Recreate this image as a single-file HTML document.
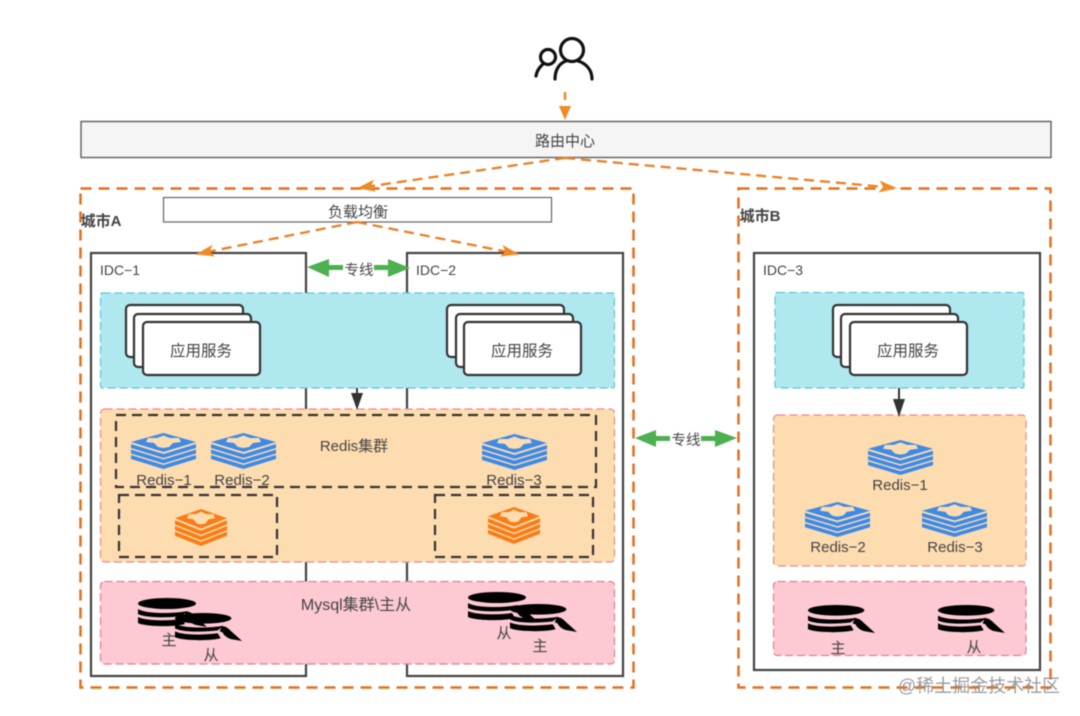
<!DOCTYPE html>
<html><head><meta charset="utf-8"><style>
html,body{margin:0;padding:0;background:#fff}
svg{display:block;filter:blur(.45px)}
text{font-family:"Liberation Sans","Noto Sans CJK SC",sans-serif;fill:#444;font-size:14px;text-anchor:middle}
</style></head><body>
<svg width="1080" height="716" viewBox="0 0 1080 716" xmlns="http://www.w3.org/2000/svg">
<defs>
<symbol id="redis" viewBox="0 0 65 36" preserveAspectRatio="none" overflow="visible">
<path d="M0 22 L32.500 32 L65 22 V26 L32.500 36 L0 26Z"/>
<path d="M0 16.500 L32.500 26.500 L65 16.500 V20.500 L32.500 30.500 L0 20.500Z"/>
<path d="M0 11 L32.500 21 L65 11 V15 L32.500 25 L0 15Z"/>
<path d="M32.500 0 L65 9 L32.500 19 L0 9Z"/>
<path d="M32.500 2.500 L39 5 L48 5 L50 9 L42 10 L38 14 L32.500 15 L27 14 L23 10 L15 9 L17 5 L26 5Z" fill="#fddcb0"/>
</symbol>
<symbol id="db" viewBox="0 0 70 30" preserveAspectRatio="none" overflow="visible">
<ellipse cx="29" cy="5.500" rx="29" ry="5.500" fill="#000"/>
<path d="M0 11 C8 16 34 16 50 13 L44 18 C30 20 8 20 0 16Z" fill="#000"/>
<path d="M0 19 C8 23 30 23 44 21 L47 26 C38 29 8 29 0 25Z" fill="#000"/>
<path d="M48 14 C52 13 55 16 58 19 L69 29 L58 27 C54 26 50 23 49 20 L46 19Z" fill="#000"/>
</symbol>
<marker id="o" markerWidth="20" markerHeight="14" refX="17" refY="6" orient="auto" markerUnits="userSpaceOnUse"><path d="M0 0 L18 6 L0 12 L4 6Z" fill="#f08a24"/></marker>
</defs>

<!-- people icon -->
<g fill="none" stroke="#111" stroke-width="3.200" stroke-linecap="round">
<circle cx="572" cy="50" r="11.500"/>
<path d="M555 79 C555 69 560 63 566 61 M592 79 C592 69 585 63 578 61"/>
<circle cx="548" cy="57" r="7.500"/>
<path d="M536 76 C537 70 540 67 543 64"/>
</g>
<path d="M565 92 V100 M565 106 V113" stroke="#f08a24" stroke-width="2.500"/>
<path d="M559 106 H571 L565 120Z" fill="#f08a24"/>

<!-- routing center -->
<rect x="81" y="121.500" width="970" height="36" fill="#f5f5f5" stroke="#666" stroke-width="1.500"/>
<text x="565" y="146" style="font-size:15px">路由中心</text>

<!-- city boxes -->
<rect x="80.500" y="188.500" width="553" height="499" fill="none" stroke="#e4701e" stroke-width="2.500" stroke-dasharray="11 7"/>
<rect x="738.500" y="188.500" width="312" height="499" fill="none" stroke="#e4701e" stroke-width="2.500" stroke-dasharray="11 7"/>
<text x="101" y="226" style="font-weight:bold;font-size:15px">城市A</text>
<text x="760" y="221" style="font-weight:bold;font-size:15px">城市B</text>

<!-- LB -->
<rect x="163.500" y="197.500" width="388" height="24.500" fill="#fff" stroke="#666" stroke-width="1.200"/>
<text x="358" y="217" style="font-size:15px">负载均衡</text>

<!-- IDC boxes -->
<rect x="91" y="253" width="215" height="423" fill="#fff" stroke="#444" stroke-width="2.200"/>
<rect x="407" y="253" width="216" height="423" fill="#fff" stroke="#444" stroke-width="2.200"/>
<rect x="754" y="253" width="286" height="417" fill="#fff" stroke="#444" stroke-width="2.200"/>
<text x="120" y="275" style="font-size:14px">IDC−1</text>
<text x="436" y="275" style="font-size:14px">IDC−2</text>
<text x="783" y="275" style="font-size:14px">IDC−3</text>

<!-- routes -->
<g fill="none" stroke="#ec7f22" stroke-width="2.300" stroke-dasharray="10 6">
<path d="M565 158 L358 188" marker-end="url(#o)"/>
<path d="M565 158 L896 188" marker-end="url(#o)"/>
<path d="M357 222 L197 254" marker-end="url(#o)"/>
<path d="M357 222 L518 254" marker-end="url(#o)"/>
</g>

<!-- dedicated lines -->
<g fill="#4caf50">
<path d="M307 267 L329 259 V265 H343 V270 H329 V277Z"/>
<path d="M410 268 L388 259 V265 H374 V270 H388 V277Z"/>
<path d="M635 438 L656 430 V436 H670 V441 H656 V447Z"/>
<path d="M737 438 L715 430 V436 H701 V441 H715 V447Z"/>
</g>
<text x="359" y="275" style="font-size:14.500px">专线</text>
<text x="686" y="445" style="font-size:14.500px">专线</text>

<!-- layers A -->
<rect x="100.500" y="293" width="514" height="95" rx="2" fill="#b0e8ef" stroke="#5cc6d6" stroke-width="1.200" stroke-dasharray="8 4"/>
<rect x="100.500" y="409" width="514" height="153" rx="4" fill="#fddcb0" stroke="#e98a8e" stroke-width="1.200" stroke-dasharray="8 4"/>
<rect x="100.500" y="581.500" width="514" height="82.500" rx="4" fill="#fdc9d3" stroke="#e0808e" stroke-width="1.200" stroke-dasharray="8 4"/>

<!-- layers B -->
<rect x="775" y="292.500" width="249" height="95.500" rx="2" fill="#b0e8ef" stroke="#5cc6d6" stroke-width="1.200" stroke-dasharray="8 4"/>
<rect x="773.500" y="415" width="252.500" height="151" rx="4" fill="#fddcb0" stroke="#e98a8e" stroke-width="1.200" stroke-dasharray="8 4"/>
<rect x="773.500" y="581.500" width="252.500" height="74" rx="4" fill="#fdc9d3" stroke="#e0808e" stroke-width="1.200" stroke-dasharray="8 4"/>

<!-- app stacks -->
<g fill="#fff" stroke="#333" stroke-width="2.200">
<rect x="126" y="305" width="117" height="52" rx="4"/>
<rect x="134" y="314" width="117" height="53" rx="4"/>
<rect x="143" y="322" width="117" height="53" rx="4"/>
<rect x="447" y="305" width="117" height="52" rx="4"/>
<rect x="456" y="314" width="117" height="53" rx="4"/>
<rect x="464" y="322" width="117" height="53" rx="4"/>
<rect x="833" y="305" width="117" height="52" rx="4"/>
<rect x="841" y="314" width="117" height="53" rx="4"/>
<rect x="850" y="322" width="117" height="53" rx="4"/>
</g>
<text x="201" y="356" style="font-size:15.500px">应用服务</text>
<text x="522" y="356" style="font-size:15.500px">应用服务</text>
<text x="908" y="356" style="font-size:15.500px">应用服务</text>

<!-- arrows to redis -->
<g stroke="#333" stroke-width="2" fill="#333">
<path d="M357 388 V396"/>
<path d="M351 393 H363 L357 410Z" stroke="none"/>
<path d="M899 388 V402"/>
<path d="M893 399 H905 L899 417Z" stroke="none"/>
</g>

<!-- redis A -->
<g fill="none" stroke="#333" stroke-width="2.200" stroke-dasharray="10 6">
<rect x="116" y="415" width="480" height="72"/>
<rect x="119" y="495" width="158" height="62"/>
<rect x="435" y="495" width="158" height="62"/>
</g>
<text x="354" y="451" style="font-size:15px">Redis集群</text>
<g fill="#3f8ae6">
<use href="#redis" x="131" y="433" width="65" height="36"/>
<use href="#redis" x="211" y="433" width="65" height="36"/>
<use href="#redis" x="482" y="434" width="65" height="36"/>
</g>
<g fill="#f97c16">
<use href="#redis" x="175" y="509" width="52" height="37"/>
<use href="#redis" x="488" y="507" width="52" height="37"/>
</g>
<text x="164" y="485" style="font-size:15px">Redis−1</text>
<text x="242" y="485" style="font-size:15px">Redis−2</text>
<text x="514" y="485" style="font-size:15px">Redis−3</text>

<!-- mysql A -->
<text x="356" y="610" style="font-size:16px">Mysql集群\主从</text>
<use href="#db" x="138" y="598" width="70" height="30"/>
<use href="#db" x="175" y="613" width="68" height="29"/>
<use href="#db" x="468" y="592" width="70" height="30"/>
<use href="#db" x="510" y="604" width="68" height="29"/>
<text x="169" y="645" style="font-size:15px">主</text>
<text x="211" y="660" style="font-size:15px">从</text>
<text x="504" y="638" style="font-size:15px">从</text>
<text x="540" y="651" style="font-size:15px">主</text>

<!-- redis B -->
<g fill="#3f8ae6">
<use href="#redis" x="868" y="440" width="65" height="35"/>
<use href="#redis" x="805" y="502" width="65" height="35"/>
<use href="#redis" x="922" y="502" width="65" height="35"/>
</g>
<text x="900" y="490" style="font-size:15px">Redis−1</text>
<text x="838" y="552" style="font-size:15px">Redis−2</text>
<text x="955" y="552" style="font-size:15px">Redis−3</text>
<use href="#db" x="808" y="605" width="68" height="29"/>
<use href="#db" x="938" y="605" width="68" height="29"/>
<text x="838" y="653" style="font-size:15px">主</text>
<text x="974" y="652" style="font-size:15px">从</text>

<!-- watermark -->
<text x="979" y="692" style="font-size:18px;fill:#8a8a8a;fill-opacity:.85">@稀土掘金技术社区</text>
</svg>
</body></html>
